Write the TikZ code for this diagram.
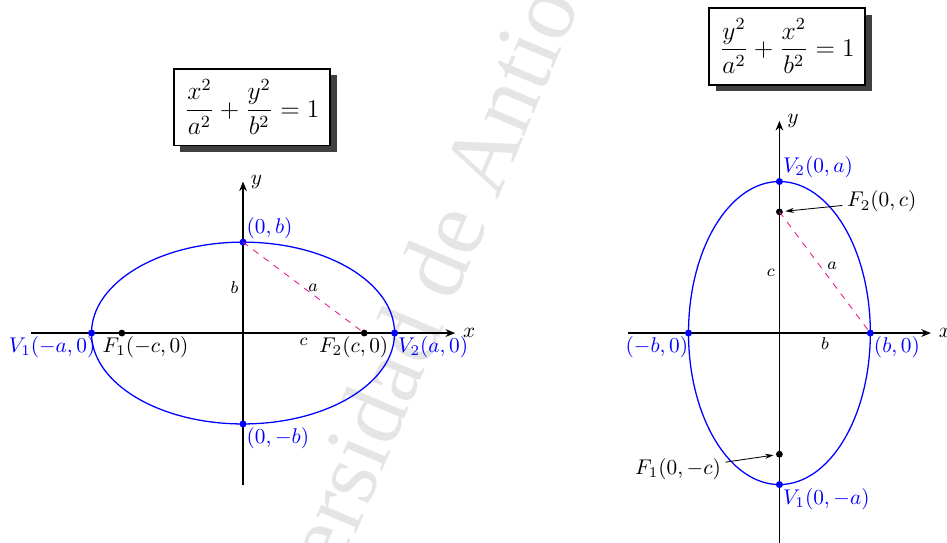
\documentclass[tikz,border=0pt]{standalone}
\usepackage{amsmath,amssymb}
\usepackage{fontspec}
\newfontfamily\marcafont{Liberation Serif}
\usepackage{tikz}
\usetikzlibrary{positioning,arrows.meta,shadows}
\usepackage{xcolor}
\definecolor{semieje}{RGB}{235,20,140}
\tikzset{
  vertice/.style={circle,fill=blue,inner sep=0pt,minimum size=3.3pt},
  foco/.style={circle,fill=black,inner sep=0pt,minimum size=3.2pt},
  eje/.style={line width=0.8pt,-{Stealth[length=4.5pt,width=3.6pt]}},
  curva/.style={blue,semithick},
  etiq/.style={text=blue,inner sep=1.5pt},
  chica/.style={font=\footnotesize,inner sep=2pt},
  ecuacion/.style={draw,line width=0.9pt,fill=white,inner sep=5pt,font=\large,
    drop shadow={shadow xshift=3pt,shadow yshift=-3pt,fill=black!75,opacity=1}},
  every edge/.style={draw,thin,->,>={Stealth[length=4pt,width=2.4pt]},shorten >=1pt},
}

\begin{document}
\begin{tikzpicture}[x=0.5cm,y=0.5cm]
\useasboundingbox (-8.02,-6.9) rectangle (23.23,10.99);

% marca de agua
\begin{scope}
\clip (-8.02,-6.9) rectangle (23.23,10.99);
\node[text=black!10,rotate=67,font=\marcafont\fontsize{44}{50}\selectfont] (marca) at (6.3,1.35) {Universidad de Antioquia};
\end{scope}

% elipse con eje mayor horizontal
\draw[eje] (-7,0) -- (7,0) node[right] {$x$};
\draw[eje] (0,-5) -- (0,5) node[right] {$y$};
\draw[curva] (0,0) ellipse (5 and 3);

\node[vertice] (V1) at (-5,0) {};
\node[vertice] (V2) at (5,0) {};
\node[vertice] (B2) at (0,3) {};
\node[vertice] (B1) at (0,-3) {};
\node[foco] (F1) at (-4,0) {};
\node[foco] (F2) at (4,0) {};
\draw[semieje,dashed] (B2.center) -- (F2.center);

\node[etiq,above right] (lB2) at (B2) {$(0,b)$};
\node[etiq,below right] (lB1) at (B1) {$(0,-b)$};
\node[etiq,below left,xshift=3.5pt] (lV1) at (V1) {$V_1(-a,0)$};
\node[etiq,below right] (lV2) at (V2) {$V_2(a,0)$};
\node[below right,inner sep=1.5pt,xshift=-3.75mm] (lF1) at (F1) {$F_1(-c,0)$};
\node[below,inner sep=1.5pt,xshift=-5pt] (lF2) at (F2) {$F_2(c,0)$};
\node[chica,left] (lb) at (0,1.5) {$b$};
\node[chica,right] (la) at (2,1.5) {$a$};
\node[chica,below] (lc) at (2,0) {$c$};

\node[ecuacion] (ec1) at (0.3,7.45) {$\dfrac{x^2}{a^2}+\dfrac{y^2}{b^2}=1$};

% elipse con eje mayor vertical
\begin{scope}[shift={(17.7,0)}]
\draw[eje] (-5,0) -- (5,0) node[right] {$x$};
\draw[eje] (0,-7) -- (0,7) node[right] {$y$};
\draw[curva] (0,0) ellipse (3 and 5);

\node[vertice] (W2) at (0,5) {};
\node[vertice] (W1) at (0,-5) {};
\node[vertice] (C1) at (-3,0) {};
\node[vertice] (C2) at (3,0) {};
\node[foco] (G2) at (0,4) {};
\node[foco] (G1) at (0,-4) {};
\draw[semieje,dashed] (G2.center) -- (C2.center);

\node[etiq,above right] (lW2) at (W2) {$V_2(0,a)$};
\node[etiq,below right] (lW1) at (W1) {$V_1(0,-a)$};
\node[etiq,below left,xshift=1.5pt] (lC1) at (C1) {$(-b,0)$};
\node[etiq,below right] (lC2) at (C2) {$(b,0)$};
\node[anchor=west,inner sep=2pt] (lG2) at (2.08,4.34) {$F_2(0,c)$};
\node[anchor=east,inner sep=2pt] (lG1) at (-1.78,-4.49) {$F_1(0,-c)$};
\path (lG2) edge (G2)
      (lG1) edge (G1);
\node[chica,left] (lc2) at (0,2) {$c$};
\node[chica,above right,inner sep=1pt] (la2) at (1.5,2) {$a$};
\node[chica,below] (lb2) at (1.5,0) {$b$};

\node[ecuacion] (ec2) at (0.26,9.46) {$\dfrac{y^2}{a^2}+\dfrac{x^2}{b^2}=1$};
\end{scope}

\end{tikzpicture}
\end{document}
